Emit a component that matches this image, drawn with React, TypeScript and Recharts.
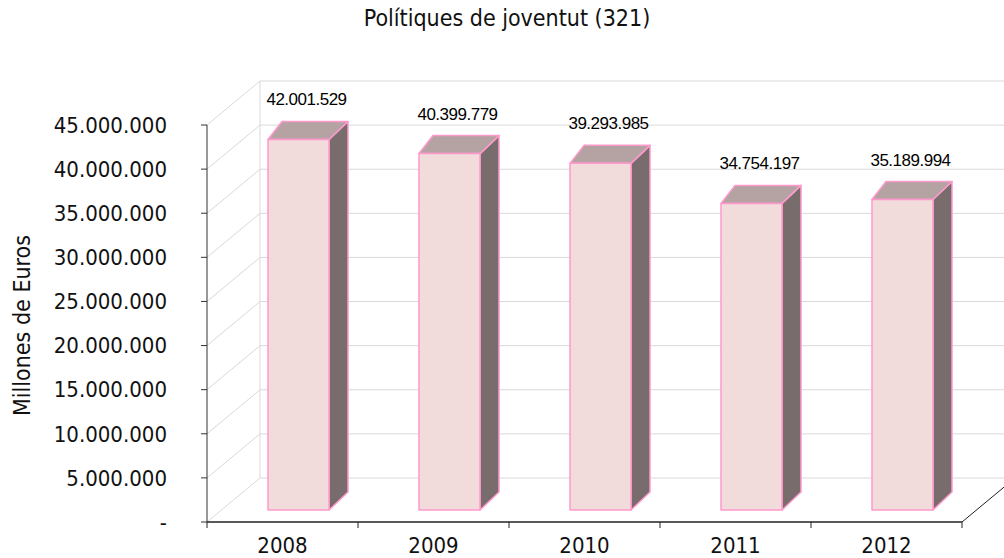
import React from "react";
import { BarChart, Bar, XAxis, YAxis, CartesianGrid, LabelList, Label } from "recharts";

const years = ["2008", "2009", "2010", "2011", "2012"];
const amounts = [42001529, 40399779, 39293985, 34754197, 35189994];
const yTicks = [0, 5000000, 10000000, 15000000, 20000000, 25000000, 30000000, 35000000, 40000000, 45000000];

const data = years.map((year, i) => ({ year, amount: amounts[i] }));

// layout of the front plane of the 3d box
const W = 1004;
const H = 558;
const PLOT_LEFT = 207;
const PLOT_RIGHT = 962;
const PLOT_TOP = 125;
const PLOT_BOTTOM = 522;
const BAND = (PLOT_RIGHT - PLOT_LEFT) / years.length;

// depth of the walls and of the bars
const WALL_DX = 53;
const WALL_DY = -44;
const BAR_OX = 16;
const BAR_OY = -12;
const DEPTH_L = 14;
const DEPTH_R = 19;
const DEPTH_Y = -18;

const GRID = "#d9d9d9";
const PINK = "#ff99cc";
const FONT = "'DejaVu Sans Condensed', 'DejaVu Sans', Verdana, sans-serif";
const COND = { fontStretch: "condensed" as const };

const fmt = (v: number) => (v === 0 ? "-" : v.toString().replace(/\B(?=(\d{3})+(?!\d))/g, "."));

const GridLine = (props: any) => {
  const { x1, y1, x2 } = props;
  return (
    <g>
      <line x1={x1} y1={y1} x2={x1 + WALL_DX} y2={y1 + WALL_DY} stroke={GRID} strokeWidth={1} />
      <line x1={x1 + WALL_DX} y1={y1 + WALL_DY} x2={x2 + WALL_DX} y2={y1 + WALL_DY} stroke={GRID} strokeWidth={1} />
    </g>
  );
};

const WallEdge = (props: any) => {
  const { x1, y1, y2 } = props;
  if (x1 > PLOT_LEFT + 1) {
    // right floor edge
    return <line x1={x1} y1={y2} x2={x1 + WALL_DX} y2={y2 + WALL_DY} stroke="#222" strokeWidth={1} />;
  }
  return <line x1={x1 + WALL_DX} y1={y1 + WALL_DY} x2={x1 + WALL_DX} y2={y2 + WALL_DY} stroke={GRID} strokeWidth={1} />;
};

const Box = (props: any) => {
  const { x, y, width, height } = props;
  if (!height || height <= 0) return null;
  const fx = x + BAR_OX;
  const fy = y + BAR_OY;
  const fr = fx + width;
  const fb = fy + height;
  const top = `${fx},${fy} ${fx + DEPTH_L},${fy + DEPTH_Y} ${fr + DEPTH_R},${fy + DEPTH_Y} ${fr},${fy}`;
  const side = `${fr},${fy} ${fr + DEPTH_R},${fy + DEPTH_Y} ${fr + DEPTH_R},${fb + DEPTH_Y} ${fr},${fb}`;
  return (
    <g strokeLinejoin="round">
      <polygon points={side} fill="#786c6c" stroke={PINK} strokeWidth={1.5} />
      <polygon points={top} fill="#b5a3a3" stroke={PINK} strokeWidth={1.5} />
      <rect x={fx} y={fy} width={width} height={height} fill="#f2dcdb" stroke={PINK} strokeWidth={1.5} />
    </g>
  );
};

const ValueLabel = (props: any) => {
  const { x, y, width, value } = props;
  return (
    <text
      x={x + width / 2 + BAR_OX + 8}
      y={y + BAR_OY - 34}
      textAnchor="middle"
      fontFamily="'Liberation Sans', Arial, sans-serif"
      fontSize={17}
      letterSpacing={-0.5}
      fill="#000"
    >
      {fmt(value)}
    </text>
  );
};

const YearTick = (props: any) => {
  const { x, y, payload, index } = props;
  const left = x - BAND / 2;
  return (
    <g>
      <line x1={left} y1={PLOT_BOTTOM} x2={left} y2={PLOT_BOTTOM + 6} stroke="#222" />
      {index === years.length - 1 && (
        <line x1={x + BAND / 2} y1={PLOT_BOTTOM} x2={x + BAND / 2} y2={PLOT_BOTTOM + 6} stroke="#222" />
      )}
      <text x={x} y={y + 23} textAnchor="middle" fontFamily={FONT} style={COND} fontSize={22} fill="#111">
        {payload.value}
      </text>
    </g>
  );
};

export default function App() {
  return (
    <div style={{ position: "absolute", left: 0, top: 0, width: W, height: H, background: "#fff" }}>
      <div
        style={{
          position: "absolute",
          left: 0,
          top: 5,
          width: W + 10,
          textAlign: "center",
          fontFamily: FONT,
          fontStretch: "condensed",
          fontSize: 23,
          color: "#111",
        }}
      >
        Polítiques de joventut (321)
      </div>
      <BarChart
        width={W}
        height={H}
        data={data}
        margin={{ top: PLOT_TOP, right: W - PLOT_RIGHT, bottom: 0, left: 0 }}
        barSize={61}
      >
        <CartesianGrid
          horizontal={GridLine}
          vertical={WallEdge}
          verticalPoints={[PLOT_LEFT, PLOT_RIGHT]}
        />
        <XAxis
          dataKey="year"
          height={H - PLOT_BOTTOM}
          axisLine={{ stroke: "#222", strokeWidth: 1.5 }}
          tickLine={false}
          tick={YearTick}
          interval={0}
        />
        <YAxis
          width={PLOT_LEFT}
          domain={[0, 45000000]}
          ticks={yTicks}
          tickFormatter={fmt}
          axisLine={{ stroke: "#333" }}
          tickLine={{ stroke: "#333" }}
          tickSize={6}
          tickMargin={34}
          tick={{ fontFamily: FONT, fontSize: 22, fill: "#111", style: COND }}
        >
          <Label
            content={(p: any) => {
              const vb = p.viewBox;
              const cx = vb.x + 22;
              const cy = vb.y + vb.height / 2 + 2;
              return (
                <text
                  x={cx}
                  y={cy}
                  transform={`rotate(-90 ${cx} ${cy})`}
                  textAnchor="middle"
                  dominantBaseline="central"
                  fontFamily={FONT}
                  style={COND}
                  fontSize={23}
                  fill="#111"
                >
                  Millones de Euros
                </text>
              );
            }}
          />
        </YAxis>
        <Bar dataKey="amount" shape={Box} isAnimationActive={false}>
          <LabelList dataKey="amount" content={ValueLabel} />
        </Bar>
      </BarChart>
    </div>
  );
}
